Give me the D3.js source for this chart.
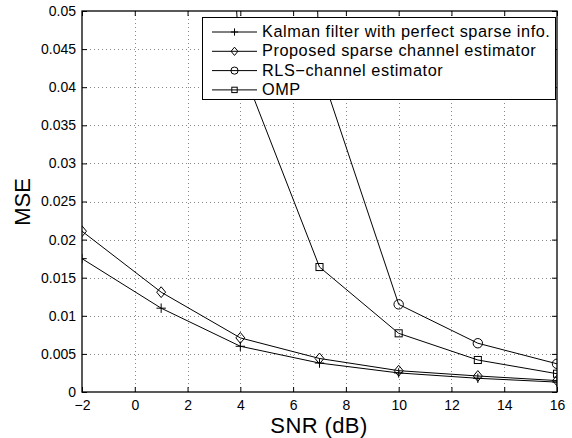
<!DOCTYPE html>
<meta charset="utf-8">
<style>
    body { margin: 0; background: #fff; }
    text { font-family: "Liberation Sans", Arial, Helvetica, sans-serif; fill: #000; }
    .grid line { stroke: #888; stroke-width: 1px; stroke-dasharray: 1,3; }
    .series { fill: none; stroke: #000; stroke-width: 1px; }
    .mark { fill: none; stroke: #000; stroke-width: 1px; }
</style>
<body>
<script src="https://cdn.jsdelivr.net/npm/d3@7"></script>
<script>

    // SNR points (dB)
    var snr = [-2, 1, 4, 7, 10, 13, 16];

    // MSE (values above 0.05 are clipped off the plot)
    var kalman   = [0.0175, 0.0110, 0.0060, 0.0038, 0.0025, 0.0018, 0.0013];
    var proposed = [0.0211, 0.0131, 0.0071, 0.0044, 0.0028, 0.0021, 0.0015];
    var rls      = [1.20, 0.70, 0.36, 0.0426, 0.0115, 0.0064, 0.0037];
    var omp      = [0.40, 0.19, 0.0431, 0.0164, 0.0077, 0.0042, 0.0024];

    var seriesNames = ["Kalman filter with perfect sparse info.", "Proposed sparse channel estimator",
        "RLS\u2212channel estimator", "OMP"];
    var seriesMarks = ["plus", "diamond", "circle", "square"];

    var xTicks = [-2, 0, 2, 4, 6, 8, 10, 12, 14, 16];
    var xTickLabels = ["\u22122", "0", "2", "4", "6", "8", "10", "12", "14", "16"];
    var yTicks = [0, 0.005, 0.01, 0.015, 0.02, 0.025, 0.03, 0.035, 0.04, 0.045, 0.05];
    var yTickLabels = ["0", "0.005", "0.01", "0.015", "0.02", "0.025", "0.03", "0.035", "0.04", "0.045", "0.05"];

    var width = 572,
        height = 438,
        pl = 82, pr = 557, pt = 11, pb = 392;

    var x = d3.scaleLinear().domain([-2, 16]).range([pl, pr]);
    var y = d3.scaleLinear().domain([0, 0.05]).range([pb, pt]);

    var svg = d3.select("body").append("svg")
        .attr("width", width)
        .attr("height", height);

    svg.append("defs").append("clipPath").attr("id", "plot")
        .append("rect")
        .attr("x", pl).attr("y", pt)
        .attr("width", pr - pl).attr("height", pb - pt);

    // dotted grid
    var grid = svg.append("g").attr("class", "grid");
    grid.selectAll(".gx").data(xTicks.slice(1, -1)).enter().append("line")
        .attr("x1", function(d) { return Math.round(x(d)) + .5; })
        .attr("x2", function(d) { return Math.round(x(d)) + .5; })
        .attr("y1", pt).attr("y2", pb);
    grid.selectAll(".gy").data(yTicks.slice(1, -1)).enter().append("line")
        .attr("y1", function(d) { return Math.round(y(d)) + .5; })
        .attr("y2", function(d) { return Math.round(y(d)) + .5; })
        .attr("x1", pl).attr("x2", pr);

    // axes, matlab style: ticks inward on all four sides
    var tl = 5;
    var xAxis = svg.append("g").attr("transform", "translate(0," + pb + ")")
        .call(d3.axisBottom(x).tickValues(xTicks).tickSizeInner(-tl).tickSizeOuter(0).tickPadding(8)
            .tickFormat(function(d, i) { return xTickLabels[i]; }));
    svg.append("g").attr("transform", "translate(0," + pt + ")")
        .call(d3.axisTop(x).tickValues(xTicks).tickSizeInner(-tl).tickSizeOuter(0).tickFormat(""));
    var yAxis = svg.append("g").attr("transform", "translate(" + pl + ",0)")
        .call(d3.axisLeft(y).tickValues(yTicks).tickSizeInner(-tl).tickSizeOuter(0).tickPadding(6)
            .tickFormat(function(d, i) { return yTickLabels[i]; }));
    svg.append("g").attr("transform", "translate(" + pr + ",0)")
        .call(d3.axisRight(y).tickValues(yTicks).tickSizeInner(-tl).tickSizeOuter(0).tickFormat(""));

    svg.selectAll(".domain").remove();
    svg.selectAll(".tick line").attr("stroke", "#000");
    svg.selectAll(".tick text").style("font-size", "14px").attr("fill", "#000")
        .style("font-family", "'Liberation Sans', Arial, sans-serif");
    xAxis.selectAll(".tick text").attr("dy", "0.71em");

    svg.append("rect")
        .attr("x", pl).attr("y", pt)
        .attr("width", pr - pl).attr("height", pb - pt)
        .attr("fill", "none").attr("stroke", "#000").attr("stroke-width", 1.3);

    // markers
    function marker(g, kind, s) {
        if (kind === "plus") {
            g.append("path").attr("class", "mark").attr("d", "M" + (-s) + ",0H" + s + "M0," + (-s) + "V" + s);
        } else if (kind === "diamond") {
            g.append("path").attr("class", "mark")
                .attr("d", "M0," + (-s * 1.15) + "L" + s * .95 + ",0L0," + s * 1.15 + "L" + (-s * .95) + ",0Z");
        } else if (kind === "circle") {
            g.append("circle").attr("class", "mark").attr("r", s);
        } else {
            g.append("rect").attr("class", "mark")
                .attr("x", -s * .75).attr("y", -s * .75).attr("width", s * 1.5).attr("height", s * 1.5);
        }
    }

    var allSeries = [kalman, proposed, rls, omp];
    var line = d3.line()
        .x(function(d, i) { return x(snr[i]); })
        .y(function(d) { return y(d); });

    var plot = svg.append("g").attr("clip-path", "url(#plot)");
    allSeries.forEach(function(vals, k) {
        plot.append("path").attr("class", "series").attr("d", line(vals));
        vals.forEach(function(v, i) {
            if (v > 0.05) return;
            var g = plot.append("g").attr("transform", "translate(" + x(snr[i]) + "," + y(v) + ")");
            marker(g, seriesMarks[k], 4.7);
        });
    });

    // legend
    var lg = svg.append("g");
    lg.append("rect")
        .attr("x", 202.5).attr("y", 17.5).attr("width", 353).attr("height", 82)
        .attr("fill", "#fff").attr("stroke", "#000").attr("stroke-width", 1);
    seriesNames.forEach(function(name, k) {
        var yy = 32 + k * 19.3;
        lg.append("line").attr("x1", 212).attr("x2", 257).attr("y1", yy).attr("y2", yy)
            .attr("stroke", "#000").attr("stroke-width", 1);
        var g = lg.append("g").attr("transform", "translate(234.5," + yy + ")");
        marker(g, seriesMarks[k], 3.6);
        lg.append("text").attr("x", 262).attr("y", yy + 5)
            .style("font-size", "16.3px").style("letter-spacing", "0.55px").text(name);
    });

    // axis titles
    svg.append("text")
        .attr("x", 319).attr("y", 433)
        .attr("text-anchor", "middle")
        .style("font-size", "22px").style("letter-spacing", "0.4px")
        .text("SNR (dB)");
    svg.append("text")
        .attr("transform", "translate(30,202)rotate(-90)")
        .attr("text-anchor", "middle")
        .style("font-size", "22px")
        .text("MSE");

</script>
</body>
</html>
